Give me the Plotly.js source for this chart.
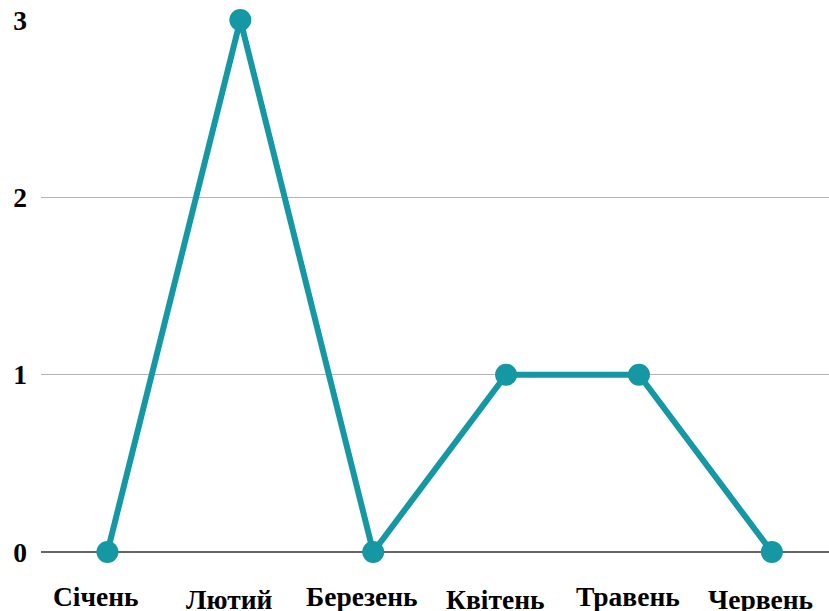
<!DOCTYPE html>
<html>
<head>
<meta charset="utf-8">
<script src="https://cdn.plot.ly/plotly-3.0.1.min.js"></script>
<style>
  html, body { margin: 0; padding: 0; background: #fff; }
  #chart { width: 829px; height: 611px; }
</style>
</head>
<body>
<div id="chart"></div>
<script>
// Monthly counts, January to June
const months = ['Січень', 'Лютий', 'Березень', 'Квітень', 'Травень', 'Червень'];
const counts = [0, 3, 0, 1, 1, 0];
const yTicks = [0, 1, 2, 3];

const teal = '#1598a3';
const labelFont = { family: '"Liberation Serif", "Times New Roman", serif', size: 27.5, color: '#000' };

const trace = {
  x: months,
  y: counts,
  type: 'scatter',
  mode: 'lines+markers',
  line: { color: teal, width: 6 },
  marker: { color: teal, size: 22 },
  cliponaxis: false,
  hoverinfo: 'skip'
};

// Category labels are staggered: every second one sits a little lower,
// and all of them are nudged slightly left of their category
const monthLabels = months.map((m, i) => ({
  x: m,
  y: 0,
  xref: 'x',
  yref: 'paper',
  yanchor: 'top',
  text: '<b>' + m + '</b>',
  showarrow: false,
  font: labelFont,
  xshift: -11,
  yshift: i % 2 === 0 ? -27 : -30
}));

const layout = {
  width: 829,
  height: 611,
  margin: { l: 41, r: 0, t: 20, b: 59 },
  paper_bgcolor: '#fff',
  plot_bgcolor: '#fff',
  showlegend: false,
  xaxis: {
    type: 'category',
    range: [-0.5, months.length - 0.57],
    showticklabels: false,
    showgrid: false,
    zeroline: false,
    showline: false,
    ticks: ''
  },
  yaxis: {
    range: [0, 3],
    tickvals: yTicks,
    ticktext: yTicks.map(v => '<b>' + v + '</b>'),
    tickfont: labelFont,
    ticks: '',
    ticklabelstandoff: 13,
    showgrid: true,
    gridcolor: '#b4b4b4',
    gridwidth: 1.5,
    zeroline: true,
    zerolinecolor: '#666',
    zerolinewidth: 2.5,
    showline: false
  },
  annotations: monthLabels
};

Plotly.newPlot('chart', [trace], layout, { displayModeBar: false, staticPlot: true });
</script>
</body>
</html>
